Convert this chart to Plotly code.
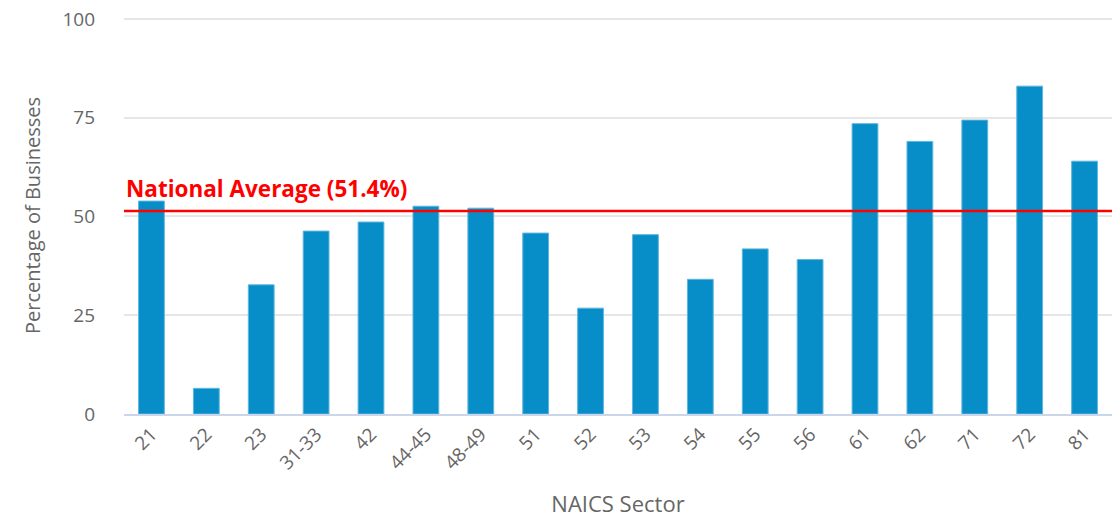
import plotly.graph_objects as go

sectors = ["21", "22", "23", "31-33", "42", "44-45", "48-49", "51", "52", "53",
           "54", "55", "56", "61", "62", "71", "72", "81"]
percentages = [53.9, 6.5, 32.7, 46.3, 48.6, 52.6, 52.1, 45.8, 26.8, 45.4,
               34.1, 41.8, 39.1, 73.5, 69.0, 74.4, 83.0, 64.0]
national_average = 51.4
y_ticks = [0, 25, 50, 75, 100]

font_family = "Open Sans, DejaVu Sans, sans-serif"

fig = go.Figure()
fig.add_trace(go.Bar(
    x=sectors, y=percentages,
    marker=dict(color="#078ec8", line=dict(color="#5fb6dd", width=1)),
    hoverinfo="x+y",
))

fig.add_shape(type="line", xref="paper", yref="y", x0=0, x1=1,
              y0=national_average, y1=national_average,
              line=dict(color="#ff0000", width=2.5), layer="above")
fig.add_annotation(xref="paper", yref="y", x=0, y=national_average,
                   text=f"<b>National Average ({national_average}%)</b>",
                   showarrow=False, xanchor="left", yanchor="bottom", yshift=5,
                   font=dict(color="#ff0000", size=22.5, family=font_family))

fig.update_layout(
    width=1120, height=518,
    margin=dict(l=124, r=8, t=17, b=104),
    plot_bgcolor="white", paper_bgcolor="white",
    bargap=0.53,
    showlegend=False,
    font=dict(family=font_family, color="#666666"),
    xaxis=dict(
        type="category",
        automargin=False,
        tickangle=-45,
        tickfont=dict(size=19, color="#666666"),
        showline=True, linecolor="#ccd6eb", linewidth=1.5,
        showgrid=False, ticks="",
        title=dict(text="NAICS Sector", font=dict(size=22, color="#666666"), standoff=24),
    ),
    yaxis=dict(
        automargin=False,
        range=[0, 100.5],
        tickvals=y_ticks,
        tickfont=dict(size=19, color="#666666"),
        ticklabeloverflow="allow",
        gridcolor="#e6e6e6", gridwidth=1.5,
        zeroline=False,
        ticklen=0, ticks="", ticklabelstandoff=28,
        title=dict(text="Percentage of Businesses", font=dict(size=20, color="#666666"), standoff=16),
    ),
)

fig.write_html("out.html", config={"displayModeBar": False},
               post_script="document.body.style.margin='0';")
